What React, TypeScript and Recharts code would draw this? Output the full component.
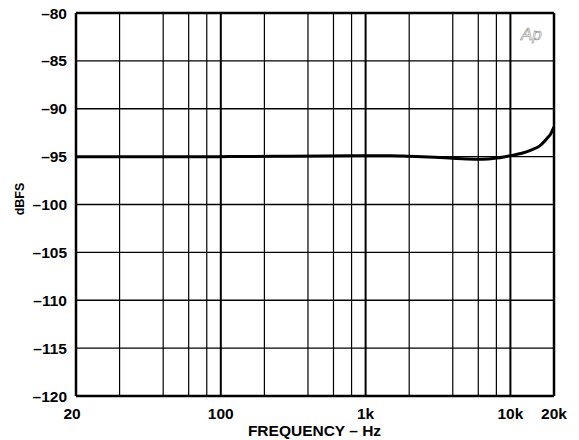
import React from 'react';
import { LineChart, Line, XAxis, YAxis, ReferenceLine } from 'recharts';

const freqs = [10, 20, 50, 100, 300, 1000, 1500, 2000, 3000, 4000, 5000, 6000, 7000, 8000, 9000, 10000, 12000, 14000, 16000, 18000, 19000, 20000];
const dbfs = [-95, -95, -95, -95, -94.95, -94.9, -94.9, -94.97, -95.07, -95.17, -95.24, -95.27, -95.25, -95.15, -95.03, -94.9, -94.65, -94.3, -93.85, -93.05, -92.6, -91.9];

const xTicks = [10, 100, 1000, 10000, 20000];
const xTickLabels = ['20', '100', '1k', '10k', '20k'];
const yTicks = [-120, -115, -110, -105, -100, -95, -90, -85, -80];
const minorFreqs = [20, 40, 60, 80, 200, 400, 600, 800, 2000, 4000, 6000, 8000];
const majorFreqs = [100, 1000, 10000];

const data = freqs.map((f, i) => ({ f, v: dbfs[i] }));
const font = 'Liberation Sans, Arial, sans-serif';

const XTick = (props: any) => {
  const { x, y, payload, index } = props;
  const dx = index === 0 ? -4 : 0;
  return (
    <text x={x + dx} y={y + 15} textAnchor="middle" fontFamily={font} fontWeight="bold" fontSize={15.5} fill="#000">
      {xTickLabels[xTicks.indexOf(payload.value)]}
    </text>
  );
};

const YTick = (props: any) => {
  const { x, y, payload } = props;
  return (
    <text x={x - 1} y={y + 5.5} textAnchor="end" fontFamily={font} fontWeight="bold" fontSize={15.5} fill="#000">
      {String(payload.value).replace('-', '–')}
    </text>
  );
};

export default function App() {
  return (
    <div style={{ position: 'absolute', left: 0, top: 0, width: 579, height: 440, background: '#fff' }}>
      <LineChart width={579} height={440} data={data} margin={{ top: 13, right: 25, left: 0, bottom: 0 }}>
        <XAxis
          dataKey="f"
          type="number"
          scale="log"
          domain={[10, 20000]}
          ticks={xTicks}
          interval={0}
          allowDataOverflow
          axisLine={false}
          tickLine={false}
          tick={<XTick />}
          height={44}
        />
        <YAxis
          type="number"
          domain={[-120, -80]}
          ticks={yTicks}
          interval={0}
          axisLine={false}
          tickLine={false}
          tick={<YTick />}
          width={76}
        />
        {yTicks.slice(1, -1).map(t => (
          <ReferenceLine key={'h' + t} y={t} stroke="#000" strokeWidth={1.3} />
        ))}
        {minorFreqs.map(f => (
          <ReferenceLine key={'m' + f} x={f} stroke="#000" strokeWidth={1.2} />
        ))}
        {majorFreqs.map(f => (
          <ReferenceLine key={'M' + f} x={f} stroke="#000" strokeWidth={2} />
        ))}
        <ReferenceLine y={-80} stroke="#000" strokeWidth={2.5} />
        <ReferenceLine y={-120} stroke="#000" strokeWidth={2.5} />
        <ReferenceLine x={10} stroke="#000" strokeWidth={2.5} />
        <ReferenceLine x={20000} stroke="#000" strokeWidth={2.5} />
        <Line type="monotone" dataKey="v" stroke="#000" strokeWidth={3} dot={false} isAnimationActive={false} />
      </LineChart>
      <div style={{ position: 'absolute', left: 0, width: 629, top: 422, textAlign: 'center', fontFamily: font, fontWeight: 'bold', fontSize: 15.5, lineHeight: '18px', color: '#000' }}>
        FREQUENCY – Hz
      </div>
      <div style={{ position: 'absolute', left: 20, top: 199, transform: 'translate(-50%, -50%) rotate(-90deg)', fontFamily: font, fontWeight: 'bold', fontSize: 12.5, lineHeight: '14px', color: '#000', whiteSpace: 'nowrap' }}>
        dBFS
      </div>
      <div style={{ position: 'absolute', left: 521, top: 26, fontFamily: font, fontStyle: 'italic', fontWeight: 'normal', fontSize: 17, lineHeight: '18px', color: 'transparent', WebkitTextStroke: '0.5px #777' } as any}>
        Ap
      </div>
    </div>
  );
}
